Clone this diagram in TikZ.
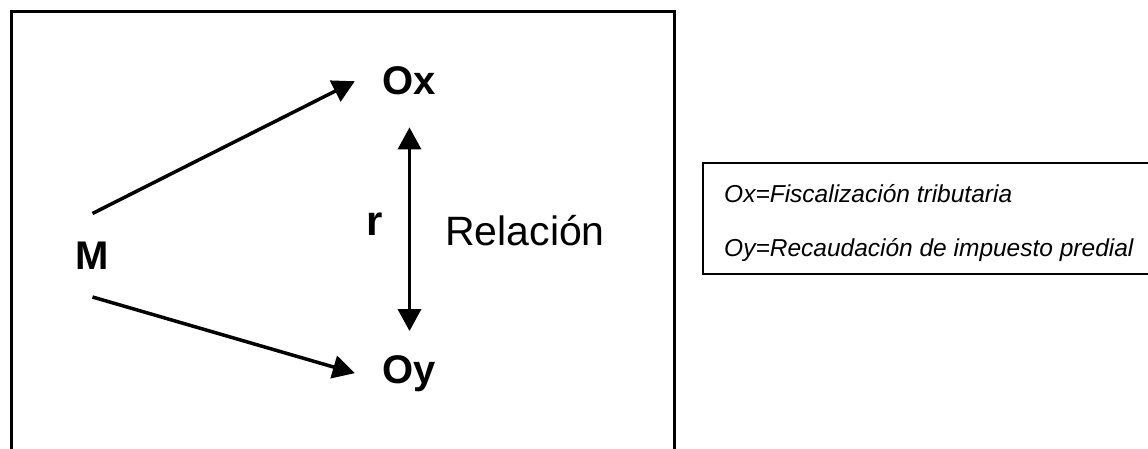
\documentclass[tikz,border=0pt]{standalone}
\usepackage{fontspec}
\setmainfont{Liberation Sans}
\usetikzlibrary{arrows.meta}
\begin{document}
\begin{tikzpicture}[x=1pt,y=-1pt,
  big/.style={font=\fontsize{40}{40}\selectfont\bfseries,inner sep=0pt,outer sep=28pt},
  legend/.style={font=\fontsize{24.5}{24.5}\selectfont\itshape,inner sep=0pt,anchor=base west},
  conn/.style={line width=3.5pt,-{Triangle[length=22pt,width=23pt]}}]
\useasboundingbox (0,0) rectangle (1148,449);
\clip (0,0) rectangle (1148,449);
% frames
\draw[line width=3pt] (11,470) |- (674,12) -- (674,470);
\draw[line width=1.5pt] (1150,163) -| (703,274) -- (1150,274);
% variables
\node[big,anchor=base] (M) at (92.5,269) {M};
\node[big,anchor=base] (Ox) at (409.5,95) {Ox};
\node[big,anchor=base] (Oy) at (409.5,383) {Oy};
\draw[conn] (M.north) -- (Ox.west);
\draw[conn] (M.south) -- (Oy.west);
\draw[conn,{Triangle[length=22pt,width=23pt]}-{Triangle[length=22pt,width=23pt]},shorten <=4pt,shorten >=-4pt] (Ox.south) -- (Oy.north);
\node[font=\fontsize{42}{42}\selectfont\bfseries,inner sep=0pt,anchor=base] (r) at (375,235) {r};
\node[font=\fontsize{41}{41}\selectfont,inner sep=0pt,anchor=base west] (rel) at (445,245) {Relación};
% legend
\node[legend] (lx) at (724,203) {Ox=Fiscalización tributaria};
\node[legend] (ly) at (724,256) {Oy=Recaudación de impuesto predial};
\end{tikzpicture}
\end{document}
